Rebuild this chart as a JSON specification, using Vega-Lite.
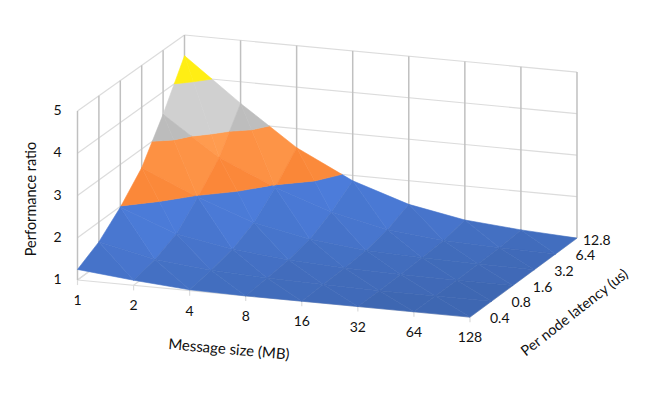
{"$schema":"https://vega.github.io/schema/vega-lite/v6.json","width":648,"height":394,"autosize":{"type":"fit","contains":"padding"},"padding":0,"background":"white","config":{"view":{"stroke":null}},
"data":{"values":[
{"kind":"wallh","p":"h1a","i":[0,7],"j":[5,5],"r":[1,1],"k":[0,1]},
{"kind":"wallh","p":"h2a","i":[0,7],"j":[5,5],"r":[2,2],"k":[0,1]},
{"kind":"wallh","p":"h3a","i":[0,7],"j":[5,5],"r":[3,3],"k":[0,1]},
{"kind":"wallh","p":"h4a","i":[0,7],"j":[5,5],"r":[4,4],"k":[0,1]},
{"kind":"wallh","p":"h5a","i":[0,7],"j":[5,5],"r":[5,5],"k":[0,1]},
{"kind":"wallh","p":"h1b","i":[0,0],"j":[0,5],"r":[1,1],"k":[0,1]},
{"kind":"wallh","p":"h2b","i":[0,0],"j":[0,5],"r":[2,2],"k":[0,1]},
{"kind":"wallh","p":"h3b","i":[0,0],"j":[0,5],"r":[3,3],"k":[0,1]},
{"kind":"wallh","p":"h4b","i":[0,0],"j":[0,5],"r":[4,4],"k":[0,1]},
{"kind":"wallh","p":"h5b","i":[0,0],"j":[0,5],"r":[5,5],"k":[0,1]},
{"kind":"wallh","p":"fa","i":[0,7],"j":[0,0],"r":[1,1],"k":[0,1]},
{"kind":"wallh","p":"fb","i":[7,7],"j":[0,5],"r":[1,1],"k":[0,1]},
{"kind":"wallh","p":"f0","i":[0,0],"j":[0,1],"r":[1,1],"k":[0,1]},
{"kind":"wallh","p":"f1","i":[1,1],"j":[0,1],"r":[1,1],"k":[0,1]},
{"kind":"wallh","p":"f2","i":[2,2],"j":[0,1],"r":[1,1],"k":[0,1]},
{"kind":"wallh","p":"f3","i":[3,3],"j":[0,1],"r":[1,1],"k":[0,1]},
{"kind":"wallh","p":"t0","i":[0,0],"j":[0,0],"r":[1,0.88],"k":[0,1]},
{"kind":"wallh","p":"t1","i":[1,1],"j":[0,0],"r":[1,0.88],"k":[0,1]},
{"kind":"wallh","p":"t2","i":[2,2],"j":[0,0],"r":[1,0.88],"k":[0,1]},
{"kind":"wallh","p":"t3","i":[3,3],"j":[0,0],"r":[1,0.88],"k":[0,1]},
{"kind":"wallh","p":"t4","i":[4,4],"j":[0,0],"r":[1,0.88],"k":[0,1]},
{"kind":"wallh","p":"t5","i":[5,5],"j":[0,0],"r":[1,0.88],"k":[0,1]},
{"kind":"wallh","p":"t6","i":[6,6],"j":[0,0],"r":[1,0.88],"k":[0,1]},
{"kind":"wallh","p":"t7","i":[7,7],"j":[0,0],"r":[1,0.88],"k":[0,1]},
{"kind":"wallv","p":"v0","i":[0,0],"j":[5,5],"r":[1,5],"k":[0,1]},
{"kind":"wallv","p":"v1","i":[1,1],"j":[5,5],"r":[1,5],"k":[0,1]},
{"kind":"wallv","p":"v2","i":[2,2],"j":[5,5],"r":[1,5],"k":[0,1]},
{"kind":"wallv","p":"v3","i":[3,3],"j":[5,5],"r":[1,5],"k":[0,1]},
{"kind":"wallv","p":"v4","i":[4,4],"j":[5,5],"r":[1,5],"k":[0,1]},
{"kind":"wallv","p":"v5","i":[5,5],"j":[5,5],"r":[1,5],"k":[0,1]},
{"kind":"wallv","p":"v6","i":[6,6],"j":[5,5],"r":[1,5],"k":[0,1]},
{"kind":"wallv","p":"v7","i":[7,7],"j":[5,5],"r":[1,5],"k":[0,1]},
{"kind":"wallv","p":"w0","i":[0,0],"j":[0,0],"r":[1,5],"k":[0,1]},
{"kind":"wallv","p":"w1","i":[0,0],"j":[1,1],"r":[1,5],"k":[0,1]},
{"kind":"wallv","p":"w2","i":[0,0],"j":[2,2],"r":[1,5],"k":[0,1]},
{"kind":"wallv","p":"w3","i":[0,0],"j":[3,3],"r":[1,5],"k":[0,1]},
{"kind":"wallv","p":"w4","i":[0,0],"j":[4,4],"r":[1,5],"k":[0,1]},

{"kind":"poly","p":"A04o","band":2,"di":0.91,"dj":1.04,"k":[0,1,2],"i":[1,0.769,0.505],"j":[4,4.231,4],"r":[2.55,3,3]},
{"kind":"poly","p":"A04g","band":3,"di":0.91,"dj":1.04,"k":[0,1,2,3,4],"i":[0,0.505,0.769,0.256,0],"j":[4,4,4.231,4.744,4.519],"r":[3.46,3,3,4,4]},
{"kind":"poly","p":"A04y","band":4,"di":0.91,"dj":1.04,"k":[0,1,2],"i":[0,0.256,0],"j":[4.519,4.744,5],"r":[4,4,4.5]},
{"kind":"poly","p":"B04o","band":2,"di":1.02,"dj":0.93,"k":[0,1,2],"i":[1,1,0.769],"j":[4,4.484,4.231],"r":[2.55,3,3]},
{"kind":"poly","p":"B04g","band":3,"di":1.02,"dj":0.93,"k":[0,1,2,3,4],"i":[0.769,1,1,0.49,0.256],"j":[4.231,4.484,5,5,4.744],"r":[3,3,3.48,4,4]},
{"kind":"poly","p":"B04y","band":4,"di":1.02,"dj":0.93,"k":[0,1,2],"i":[0.256,0.49,0],"j":[4.744,5,5],"r":[4,4,4.5]},
{"kind":"poly","p":"A14b","band":1,"di":0.59,"dj":0.93,"k":[0,1,2],"i":[2,1.974,1.932],"j":[4,4.026,4],"r":[1.96,2,2]},
{"kind":"poly","p":"A14o","band":2,"di":0.59,"dj":0.93,"k":[0,1,2,3,4],"i":[1,1.932,1.974,1.316,1],"j":[4,4,4.026,4.684,4.484],"r":[2.55,2,2,3,3]},
{"kind":"poly","p":"A14g","band":3,"di":0.59,"dj":0.93,"k":[0,1,2],"i":[1,1.316,1],"j":[4.484,4.684,5],"r":[3,3,3.48]},
{"kind":"poly","p":"B14b","band":1,"di":0.94,"dj":0.58,"k":[0,1,2],"i":[2,2,1.974],"j":[4,4.069,4.026],"r":[1.96,2,2]},
{"kind":"poly","p":"B14o","band":2,"di":0.94,"dj":0.58,"k":[0,1,2,3,4],"i":[1.974,2,2,1.511,1.316],"j":[4.026,4.069,5,5,4.684],"r":[2,2,2.54,3,3]},
{"kind":"poly","p":"B14g","band":3,"di":0.94,"dj":0.58,"k":[0,1,2],"i":[1.316,1.511,1],"j":[4.684,5,5],"r":[3,3,3.48]},
{"kind":"poly","p":"A24b","band":1,"di":0.46,"dj":0.58,"k":[0,1,2,3],"i":[2,3,2.519,2],"j":[4,4,4.481,4.069],"r":[1.96,1.5,2,2]},
{"kind":"poly","p":"A24o","band":2,"di":0.46,"dj":0.58,"k":[0,1,2],"i":[2,2.519,2],"j":[4.069,4.481,5],"r":[2,2,2.54]},
{"kind":"poly","p":"B24b","band":1,"di":0.67,"dj":0.37,"k":[0,1,2,3],"i":[3,3,2.806,2.519],"j":[4,5,5,4.481],"r":[1.5,1.87,2,2]},
{"kind":"poly","p":"B24o","band":2,"di":0.67,"dj":0.37,"k":[0,1,2],"i":[2.519,2.806,2],"j":[4.481,5,5],"r":[2,2,2.54]},
{"kind":"poly","p":"A34","band":1,"di":0.30,"dj":0.37,"k":[0,1,2],"i":[3,4,3],"j":[4,4,5],"r":[1.5,1.2,1.87]},
{"kind":"poly","p":"B34","band":1,"di":0.44,"dj":0.23,"k":[0,1,2],"i":[4,4,3],"j":[4,5,5],"r":[1.2,1.43,1.87]},
{"kind":"poly","p":"A44","band":1,"di":0.13,"dj":0.23,"k":[0,1,2],"i":[4,5,4],"j":[4,4,5],"r":[1.2,1.07,1.43]},
{"kind":"poly","p":"B44","band":1,"di":0.25,"dj":0.11,"k":[0,1,2],"i":[5,5,4],"j":[4,5,5],"r":[1.07,1.18,1.43]},
{"kind":"poly","p":"A54","band":1,"di":0.05,"dj":0.11,"k":[0,1,2],"i":[5,6,5],"j":[4,4,5],"r":[1.07,1.02,1.18]},
{"kind":"poly","p":"B54","band":1,"di":0.11,"dj":0.05,"k":[0,1,2],"i":[6,6,5],"j":[4,5,5],"r":[1.02,1.07,1.18]},
{"kind":"poly","p":"A64","band":1,"di":0.02,"dj":0.05,"k":[0,1,2],"i":[6,7,6],"j":[4,4,5],"r":[1.02,1,1.07]},
{"kind":"poly","p":"B64","band":1,"di":0.07,"dj":0,"k":[0,1,2],"i":[7,7,6],"j":[4,5,5],"r":[1,1,1.07]},

{"kind":"poly","p":"A03b","band":1,"di":0.58,"dj":0.91,"k":[0,1,2],"i":[1,0.98,0.948],"j":[3,3.02,3],"r":[1.97,2,2]},
{"kind":"poly","p":"A03o","band":2,"di":0.58,"dj":0.91,"k":[0,1,2,3,4],"i":[0,0.948,0.98,0.309,0],"j":[3,3,3.02,3.691,3.495],"r":[2.55,2,2,3,3]},
{"kind":"poly","p":"A03g","band":3,"di":0.58,"dj":0.91,"k":[0,1,2],"i":[0,0.309,0],"j":[3.495,3.691,4],"r":[3,3,3.46]},
{"kind":"poly","p":"B03b","band":1,"di":0.91,"dj":0.58,"k":[0,1,2],"i":[1,1,0.98],"j":[3,3.052,3.02],"r":[1.97,2,2]},
{"kind":"poly","p":"B03o","band":2,"di":0.91,"dj":0.58,"k":[0,1,2,3,4],"i":[0.98,1,1,0.505,0.309],"j":[3.02,3.052,4,4,3.691],"r":[2,2,2.55,3,3]},
{"kind":"poly","p":"B03g","band":3,"di":0.91,"dj":0.58,"k":[0,1,2],"i":[0.309,0.505,0],"j":[3.691,4,4],"r":[3,3,3.46]},
{"kind":"poly","p":"A13b","band":1,"di":0.48,"dj":0.58,"k":[0,1,2,3],"i":[1,2,1.519,1],"j":[3,3,3.481,3.052],"r":[1.97,1.49,2,2]},
{"kind":"poly","p":"A13o","band":2,"di":0.48,"dj":0.58,"k":[0,1,2],"i":[1,1.519,1],"j":[3.052,3.481,4],"r":[2,2,2.55]},
{"kind":"poly","p":"B13b","band":1,"di":0.59,"dj":0.47,"k":[0,1,2,3],"i":[2,2,1.932,1.519],"j":[3,4,4,3.481],"r":[1.49,1.96,2,2]},
{"kind":"poly","p":"B13o","band":2,"di":0.59,"dj":0.47,"k":[0,1,2],"i":[1.519,1.932,1],"j":[3.481,4,4],"r":[2,2,2.55]},
{"kind":"poly","p":"A23","band":1,"di":0.27,"dj":0.47,"k":[0,1,2],"i":[2,3,2],"j":[3,3,4],"r":[1.49,1.22,1.96]},
{"kind":"poly","p":"B23","band":1,"di":0.46,"dj":0.28,"k":[0,1,2],"i":[3,3,2],"j":[3,4,4],"r":[1.22,1.5,1.96]},
{"kind":"poly","p":"A33","band":1,"di":0.14,"dj":0.28,"k":[0,1,2],"i":[3,4,3],"j":[3,3,4],"r":[1.22,1.08,1.5]},
{"kind":"poly","p":"B33","band":1,"di":0.30,"dj":0.12,"k":[0,1,2],"i":[4,4,3],"j":[3,4,4],"r":[1.08,1.2,1.5]},
{"kind":"poly","p":"A43","band":1,"di":0.05,"dj":0.12,"k":[0,1,2],"i":[4,5,4],"j":[3,3,4],"r":[1.08,1.03,1.2]},
{"kind":"poly","p":"B43","band":1,"di":0.13,"dj":0.04,"k":[0,1,2],"i":[5,5,4],"j":[3,4,4],"r":[1.03,1.07,1.2]},
{"kind":"poly","p":"A53","band":1,"di":0.02,"dj":0.04,"k":[0,1,2],"i":[5,6,5],"j":[3,3,4],"r":[1.03,1.01,1.07]},
{"kind":"poly","p":"B53","band":1,"di":0.05,"dj":0.01,"k":[0,1,2],"i":[6,6,5],"j":[3,4,4],"r":[1.01,1.02,1.07]},
{"kind":"poly","p":"A63","band":1,"di":0.01,"dj":0.01,"k":[0,1,2],"i":[6,7,6],"j":[3,3,4],"r":[1.01,1,1.02]},
{"kind":"poly","p":"B63","band":1,"di":0.02,"dj":0,"k":[0,1,2],"i":[7,7,6],"j":[3,4,4],"r":[1,1,1.02]},

{"kind":"poly","p":"A02b","band":1,"di":0.51,"dj":0.57,"k":[0,1,2,3],"i":[0,1,0.509,0],"j":[2,2,2.491,2.035],"r":[1.98,1.47,2,2]},
{"kind":"poly","p":"A02o","band":2,"di":0.51,"dj":0.57,"k":[0,1,2],"i":[0,0.509,0],"j":[2.035,2.491,3],"r":[2,2,2.55]},
{"kind":"poly","p":"B02b","band":1,"di":0.58,"dj":0.50,"k":[0,1,2,3],"i":[1,1,0.948,0.509],"j":[2,3,3,2.491],"r":[1.47,1.97,2,2]},
{"kind":"poly","p":"B02o","band":2,"di":0.58,"dj":0.50,"k":[0,1,2],"i":[0.509,0.948,0],"j":[2.491,3,3],"r":[2,2,2.55]},
{"kind":"poly","p":"A12","band":1,"di":0.24,"dj":0.50,"k":[0,1,2],"i":[1,2,1],"j":[2,2,3],"r":[1.47,1.23,1.97]},
{"kind":"poly","p":"B12","band":1,"di":0.48,"dj":0.26,"k":[0,1,2],"i":[2,2,1],"j":[2,3,3],"r":[1.23,1.49,1.97]},
{"kind":"poly","p":"A22","band":1,"di":0.13,"dj":0.26,"k":[0,1,2],"i":[2,3,2],"j":[2,2,3],"r":[1.23,1.1,1.49]},
{"kind":"poly","p":"B22","band":1,"di":0.27,"dj":0.12,"k":[0,1,2],"i":[3,3,2],"j":[2,3,3],"r":[1.1,1.22,1.49]},
{"kind":"poly","p":"A32","band":1,"di":0.06,"dj":0.12,"k":[0,1,2],"i":[3,4,3],"j":[2,2,3],"r":[1.1,1.04,1.22]},
{"kind":"poly","p":"B32","band":1,"di":0.14,"dj":0.04,"k":[0,1,2],"i":[4,4,3],"j":[2,3,3],"r":[1.04,1.08,1.22]},
{"kind":"poly","p":"A42","band":1,"di":0.03,"dj":0.04,"k":[0,1,2],"i":[4,5,4],"j":[2,2,3],"r":[1.04,1.01,1.08]},
{"kind":"poly","p":"B42","band":1,"di":0.05,"dj":0.02,"k":[0,1,2],"i":[5,5,4],"j":[2,3,3],"r":[1.01,1.03,1.08]},
{"kind":"poly","p":"A52","band":1,"di":0.01,"dj":0.02,"k":[0,1,2],"i":[5,6,5],"j":[2,2,3],"r":[1.01,1,1.03]},
{"kind":"poly","p":"B52","band":1,"di":0.02,"dj":0.01,"k":[0,1,2],"i":[6,6,5],"j":[2,3,3],"r":[1,1.01,1.03]},
{"kind":"poly","p":"A62","band":1,"di":0,"dj":0.01,"k":[0,1,2],"i":[6,7,6],"j":[2,2,3],"r":[1,1,1.01]},
{"kind":"poly","p":"B62","band":1,"di":0.01,"dj":0,"k":[0,1,2],"i":[7,7,6],"j":[2,3,3],"r":[1,1,1.01]},

{"kind":"poly","p":"A01","band":1,"di":0.29,"dj":0.45,"k":[0,1,2],"i":[0,1,0],"j":[1,1,2],"r":[1.53,1.24,1.98]},
{"kind":"poly","p":"B01","band":1,"di":0.51,"dj":0.23,"k":[0,1,2],"i":[1,1,0],"j":[1,2,2],"r":[1.24,1.47,1.98]},
{"kind":"poly","p":"A11","band":1,"di":0.13,"dj":0.23,"k":[0,1,2],"i":[1,2,1],"j":[1,1,2],"r":[1.24,1.11,1.47]},
{"kind":"poly","p":"B11","band":1,"di":0.24,"dj":0.12,"k":[0,1,2],"i":[2,2,1],"j":[1,2,2],"r":[1.11,1.23,1.47]},
{"kind":"poly","p":"A21","band":1,"di":0.06,"dj":0.12,"k":[0,1,2],"i":[2,3,2],"j":[1,1,2],"r":[1.11,1.05,1.23]},
{"kind":"poly","p":"B21","band":1,"di":0.13,"dj":0.05,"k":[0,1,2],"i":[3,3,2],"j":[1,2,2],"r":[1.05,1.1,1.23]},
{"kind":"poly","p":"A31","band":1,"di":0.03,"dj":0.05,"k":[0,1,2],"i":[3,4,3],"j":[1,1,2],"r":[1.05,1.02,1.1]},
{"kind":"poly","p":"B31","band":1,"di":0.06,"dj":0.02,"k":[0,1,2],"i":[4,4,3],"j":[1,2,2],"r":[1.02,1.04,1.1]},
{"kind":"poly","p":"A41","band":1,"di":0.02,"dj":0.02,"k":[0,1,2],"i":[4,5,4],"j":[1,1,2],"r":[1.02,1,1.04]},
{"kind":"poly","p":"B41","band":1,"di":0.03,"dj":0.01,"k":[0,1,2],"i":[5,5,4],"j":[1,2,2],"r":[1,1.01,1.04]},
{"kind":"poly","p":"A51","band":1,"di":0,"dj":0.01,"k":[0,1,2],"i":[5,6,5],"j":[1,1,2],"r":[1,1,1.01]},
{"kind":"poly","p":"B51","band":1,"di":0.01,"dj":0,"k":[0,1,2],"i":[6,6,5],"j":[1,2,2],"r":[1,1,1.01]},
{"kind":"poly","p":"A61","band":1,"di":0,"dj":0,"k":[0,1,2],"i":[6,7,6],"j":[1,1,2],"r":[1,1,1]},
{"kind":"poly","p":"B61","band":1,"di":0,"dj":0,"k":[0,1,2],"i":[7,7,6],"j":[1,2,2],"r":[1,1,1]},

{"kind":"poly","p":"A00","band":1,"di":0.13,"dj":0.28,"k":[0,1,2],"i":[0,1,0],"j":[0,0,1],"r":[1.25,1.12,1.53]},
{"kind":"poly","p":"B00","band":1,"di":0.29,"dj":0.12,"k":[0,1,2],"i":[1,1,0],"j":[0,1,1],"r":[1.12,1.24,1.53]},
{"kind":"poly","p":"A10","band":1,"di":0.10,"dj":0.12,"k":[0,1,2],"i":[1,2,1],"j":[0,0,1],"r":[1.12,1.02,1.24]},
{"kind":"poly","p":"B10","band":1,"di":0.13,"dj":0.09,"k":[0,1,2],"i":[2,2,1],"j":[0,1,1],"r":[1.02,1.11,1.24]},
{"kind":"poly","p":"A20","band":1,"di":0.02,"dj":0.09,"k":[0,1,2],"i":[2,3,2],"j":[0,0,1],"r":[1.02,1,1.11]},
{"kind":"poly","p":"B20","band":1,"di":0.06,"dj":0.05,"k":[0,1,2],"i":[3,3,2],"j":[0,1,1],"r":[1,1.05,1.11]},
{"kind":"poly","p":"A30","band":1,"di":0,"dj":0.05,"k":[0,1,2],"i":[3,4,3],"j":[0,0,1],"r":[1,1,1.05]},
{"kind":"poly","p":"B30","band":1,"di":0.03,"dj":0.02,"k":[0,1,2],"i":[4,4,3],"j":[0,1,1],"r":[1,1.02,1.05]},
{"kind":"poly","p":"A40","band":1,"di":0,"dj":0.02,"k":[0,1,2],"i":[4,5,4],"j":[0,0,1],"r":[1,1,1.02]},
{"kind":"poly","p":"B40","band":1,"di":0.02,"dj":0,"k":[0,1,2],"i":[5,5,4],"j":[0,1,1],"r":[1,1,1.02]},
{"kind":"poly","p":"A50","band":1,"di":0,"dj":0,"k":[0,1,2],"i":[5,6,5],"j":[0,0,1],"r":[1,1,1]},
{"kind":"poly","p":"B50","band":1,"di":0,"dj":0,"k":[0,1,2],"i":[6,6,5],"j":[0,1,1],"r":[1,1,1]},
{"kind":"poly","p":"A60","band":1,"di":0,"dj":0,"k":[0,1,2],"i":[6,7,6],"j":[0,0,1],"r":[1,1,1]},
{"kind":"poly","p":"B60","band":1,"di":0,"dj":0,"k":[0,1,2],"i":[7,7,6],"j":[0,1,1],"r":[1,1,1]},

{"kind":"xlab","text":"1","i":[0],"j":[0],"r":[1],"k":[0]},
{"kind":"xlab","text":"2","i":[1],"j":[0],"r":[1],"k":[0]},
{"kind":"xlab","text":"4","i":[2],"j":[0],"r":[1],"k":[0]},
{"kind":"xlab","text":"8","i":[3],"j":[0],"r":[1],"k":[0]},
{"kind":"xlab","text":"16","i":[4],"j":[0],"r":[1],"k":[0]},
{"kind":"xlab","text":"32","i":[5],"j":[0],"r":[1],"k":[0]},
{"kind":"xlab","text":"64","i":[6],"j":[0],"r":[1],"k":[0]},
{"kind":"xlab","text":"128","i":[7],"j":[0],"r":[1],"k":[0]},
{"kind":"ylab","text":"1","i":[0],"j":[0],"r":[1],"k":[0]},
{"kind":"ylab","text":"2","i":[0],"j":[0],"r":[2],"k":[0]},
{"kind":"ylab","text":"3","i":[0],"j":[0],"r":[3],"k":[0]},
{"kind":"ylab","text":"4","i":[0],"j":[0],"r":[4],"k":[0]},
{"kind":"ylab","text":"5","i":[0],"j":[0],"r":[5],"k":[0]},
{"kind":"zlab","text":"0.4","i":[7],"j":[0],"r":[1],"k":[0]},
{"kind":"zlab","text":"0.8","i":[7],"j":[1],"r":[1],"k":[0]},
{"kind":"zlab","text":"1.6","i":[7],"j":[2],"r":[1],"k":[0]},
{"kind":"zlab","text":"3.2","i":[7],"j":[3],"r":[1],"k":[0]},
{"kind":"zlab","text":"6.4","i":[7],"j":[4],"r":[1],"k":[0]},
{"kind":"zlab2","text":"12.8","i":[7],"j":[5],"r":[1],"k":[0]},
{"kind":"ytitle","text":"Performance ratio","i":[0],"j":[0],"r":[3],"k":[0]},
{"kind":"xtitle","text":"Message size (MB)","i":[2.7],"j":[0],"r":[1],"k":[0]},
{"kind":"ztitle","text":"Per node latency  (us)","i":[7],"j":[2.5],"r":[1],"k":[0]}
]},
"transform":[
{"flatten":["i","j","r","k"]},
{"calculate":"77.5+56.07*datum.i+21.4*datum.j","as":"sx"},
{"calculate":"280+5.3*datum.i-15.8*datum.j-(42.25-0.15*datum.j)*(datum.r-1)","as":"sy"},
{"calculate":"sqrt(datum.di*datum.di+datum.dj*datum.dj)","as":"mag"},
{"calculate":"datum.band==1?clamp(sqrt(datum.mag)/0.9+0.35*(datum.di-datum.dj),0,1):datum.band==2?clamp((datum.mag-0.5)/0.9+0.15*(datum.di-datum.dj),0,1):datum.band==3?clamp((datum.mag-1.08)/0.3,0,1):1","as":"lit"},
{"calculate":"datum.band==1?'rgb('+round(62+14*datum.lit)+','+round(103+21*datum.lit)+','+round(178+40*datum.lit)+')':datum.band==2?'rgb('+round(249+6*datum.lit)+','+round(128+28*datum.lit)+','+round(48+32*datum.lit)+')':datum.band==3?'rgb('+round(188+20*datum.lit)+','+round(188+20*datum.lit)+','+round(188+20*datum.lit)+')':'rgb(255,238,20)'","as":"shade"}
],
"encoding":{
"x":{"field":"sx","type":"quantitative","scale":{"domain":[0,648],"nice":false,"zero":false},"axis":null},
"y":{"field":"sy","type":"quantitative","scale":{"domain":[394,0],"nice":false,"zero":false},"axis":null}
},
"layer":[
{"transform":[{"filter":"datum.kind=='wallh'"}],"mark":{"type":"line","stroke":"#dcdcdc","strokeWidth":1.2},"encoding":{"detail":{"field":"p"},"order":{"field":"k"}}},
{"transform":[{"filter":"datum.kind=='wallv'"}],"mark":{"type":"line","stroke":"#c0c0c0","strokeWidth":1.5},"encoding":{"detail":{"field":"p"},"order":{"field":"k"}}},
{"transform":[{"filter":"datum.kind=='poly'"}],"mark":{"type":"line","interpolate":"linear-closed","strokeWidth":0.6},"encoding":{"detail":{"field":"p"},"order":{"field":"k"},"fill":{"field":"shade","type":"nominal","scale":null},"stroke":{"field":"shade","type":"nominal","scale":null}}},
{"transform":[{"filter":"datum.kind=='xlab'"}],"mark":{"type":"text","font":"Lato","fontSize":14,"color":"#111","dy":21,"align":"center","baseline":"middle"},"encoding":{"text":{"field":"text"}}},
{"transform":[{"filter":"datum.kind=='ylab'"}],"mark":{"type":"text","font":"Lato","fontSize":14,"color":"#111","dx":-20,"align":"center","baseline":"middle"},"encoding":{"text":{"field":"text"}}},
{"transform":[{"filter":"datum.kind=='zlab'"}],"mark":{"type":"text","font":"Lato","fontSize":14,"color":"#111","dx":20,"dy":2,"align":"left","baseline":"middle"},"encoding":{"text":{"field":"text"}}},
{"transform":[{"filter":"datum.kind=='zlab2'"}],"mark":{"type":"text","font":"Lato","fontSize":14,"color":"#111","dx":6,"dy":3,"align":"left","baseline":"middle"},"encoding":{"text":{"field":"text"}}},
{"transform":[{"filter":"datum.kind=='ytitle'"}],"mark":{"type":"text","font":"Lato","fontSize":14.5,"color":"#111","dx":-3.5,"dy":-45.5,"angle":270,"align":"center","baseline":"middle"},"encoding":{"text":{"field":"text"}}},
{"transform":[{"filter":"datum.kind=='xtitle'"}],"mark":{"type":"text","font":"Lato","fontSize":15,"color":"#111","dx":4.8,"dy":54.8,"angle":5,"align":"center","baseline":"middle"},"encoding":{"text":{"field":"text"}}},
{"transform":[{"filter":"datum.kind=='ztitle'"}],"mark":{"type":"text","font":"Lato","fontSize":14.5,"color":"#111","dx":18.7,"dy":59.7,"angle":322,"align":"center","baseline":"middle"},"encoding":{"text":{"field":"text"}}}
]}
